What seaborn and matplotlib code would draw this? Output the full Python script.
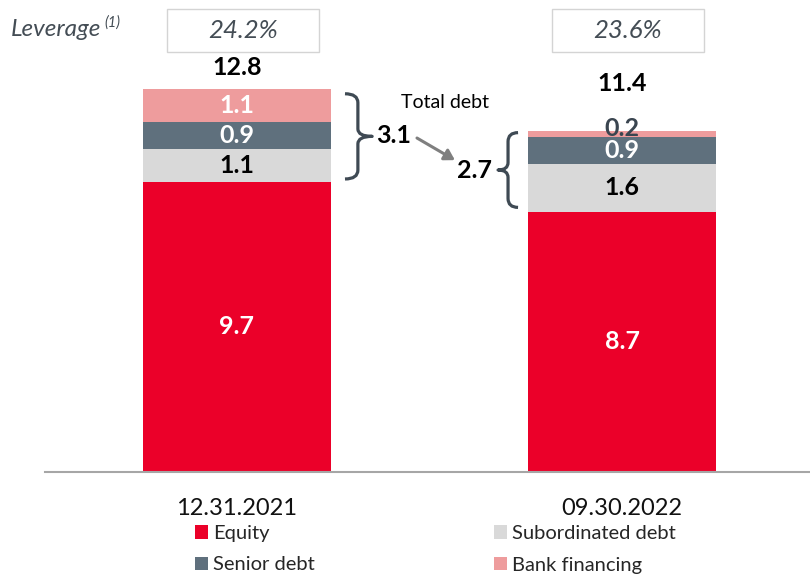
import matplotlib
matplotlib.use("Agg")
import matplotlib.pyplot as plt
from matplotlib.patches import Patch, Rectangle, PathPatch
from matplotlib.path import Path
import seaborn as sns
import pandas as pd

# ---- data ----
dates = ["12.31.2021", "09.30.2022"]
equity = [9.7, 8.7]
subordinated = [1.1, 1.6]
senior = [0.9, 0.9]
bank = [1.1, 0.2]
totals = [12.8, 11.4]
total_debt = [3.1, 2.7]
leverage = ["24.2%", "23.6%"]
series_names = ["Equity", "Subordinated debt", "Senior debt", "Bank financing"]

# ---- styles ----
C_EQ = "#EB0029"
C_SUB = "#D9D9D9"
C_SEN = "#5F707D"
C_BANK = "#EE9C9D"
C_BRACE = "#3F4A54"
C_LEV = "#444D55"
FONT = "Lato"

sns.set_theme(style="white")
plt.rcParams["font.family"] = [FONT, "DejaVu Sans"]

df = pd.DataFrame({
    "date": dates,
    "equity": equity,
    "sub": subordinated,
    "senior": senior,
    "bank": bank,
})
df["c_sub"] = df["equity"] + df["sub"]
df["c_sen"] = df["c_sub"] + df["senior"]
df["c_bank"] = df["c_sen"] + df["bank"]

W, H = 810, 578
fig = plt.figure(figsize=(W / 100, H / 100), dpi=100)
base_px = 472
ax = fig.add_axes([44.5 / W, 1 - base_px / H, 770 / W, base_px / H])

bw = 0.49
for col, c in [("c_bank", C_BANK), ("c_sen", C_SEN), ("c_sub", C_SUB), ("equity", C_EQ)]:
    sns.barplot(data=df, x="date", y=col, order=dates, color=c, saturation=1,
                width=bw, ax=ax, linewidth=0, edgecolor="none")

ax.set_xlim(-0.5, 1.5)
ax.set_ylim(0, base_px / 29.9)
for s in ["top", "right", "left"]:
    ax.spines[s].set_visible(False)
ax.spines["bottom"].set_color("#A6A6A6")
ax.spines["bottom"].set_linewidth(1.5)
ax.set_yticks([])
ax.set_xlabel("")
ax.set_ylabel("")
ax.tick_params(axis="x", length=0, pad=18.5)
ax.set_xticks([0, 1])
ax.set_xticklabels(dates, fontsize=17, color="#111111")

# ---- segment labels ----
lab_kw = dict(ha="center", va="center", fontsize=18, fontweight="bold")
for i in range(2):
    e, s, sn, b = equity[i], subordinated[i], senior[i], bank[i]
    ax.text(i, e / 2, f"{e:.1f}", color="white", **lab_kw)
    ax.text(i, e + s / 2, f"{s:.1f}", color="black", **lab_kw)
    ax.text(i, e + s + sn / 2, f"{sn:.1f}", color="white", **lab_kw)
    if b >= 0.5:
        ax.text(i, e + s + sn + b / 2, f"{b:.1f}", color="white", **lab_kw)
    else:
        ax.text(i, e + s + sn + b / 2 + 0.2, f"{b:.1f}", color="#3A4550", **lab_kw)

# totals
tot_off = [0.72, 1.6]
for i in range(2):
    ax.text(i, totals[i] + tot_off[i], f"{totals[i]:.1f}", color="black", **lab_kw)

# ---- leverage boxes ----
for i in range(2):
    xc = i + 0.015
    ax.add_patch(Rectangle((xc - 0.197, 14.05), 0.394, 1.45, facecolor="white",
                           edgecolor="#D4D4D4", linewidth=1.0, clip_on=False, zorder=5))
    ax.text(xc, 14.78, leverage[i], ha="center", va="center", fontsize=18.5,
            style="italic", color=C_LEV, zorder=6, clip_on=False)

fig.text(11 / W, 1 - 30 / H, "Leverage", ha="left", va="center", fontsize=17.5,
         style="italic", color=C_LEV)
fig.text(104 / W, 1 - 23 / H, "(1)", ha="left", va="center", fontsize=10.5,
         style="italic", color=C_LEV)

# ---- braces ----
def brace(xv, xs, xt, y0, y1):
    ym = (y0 + y1) / 2
    r, rt = 0.3, 0.25
    verts = [(xs, y1), (xv, y1), (xv, y1 - r), (xv, ym + rt), (xv, ym), (xt, ym),
             (xv, ym), (xv, ym - rt), (xv, y0 + r), (xv, y0), (xs, y0)]
    codes = [Path.MOVETO, Path.CURVE3, Path.CURVE3, Path.LINETO, Path.CURVE3, Path.CURVE3,
             Path.CURVE3, Path.CURVE3, Path.LINETO, Path.CURVE3, Path.CURVE3]
    ax.add_patch(PathPatch(Path(verts, codes), facecolor="none", edgecolor=C_BRACE,
                           linewidth=2.3, capstyle="butt", joinstyle="round", clip_on=False))

brace(0.314, 0.2805, 0.351, equity[0] + 0.1, totals[0] - 0.15)
brace(1 - 0.296, 1 - 0.27, 1 - 0.322, equity[1] + 0.15, totals[1] - 0.05)

ax.text(0.4065, 11.27, f"{total_debt[0]:.1f}", **{**lab_kw, "color": "black"})
ax.text(0.6156, 10.1, f"{total_debt[1]:.1f}", **{**lab_kw, "color": "black"})
ax.text(0.539, 12.37, "Total debt", ha="center", va="center", fontsize=14, color="black")
ax.annotate("", xy=(0.566, 10.43), xytext=(0.4675, 11.17),
            arrowprops=dict(arrowstyle="-|>,head_length=0.5,head_width=0.3",
                            color="#7F7F7F", lw=2.2, shrinkA=0, shrinkB=0))

# ---- legend ----
colors = {"Equity": C_EQ, "Subordinated debt": C_SUB, "Senior debt": C_SEN, "Bank financing": C_BANK}
order = ["Equity", "Senior debt", "Subordinated debt", "Bank financing"]
handles = [Patch(facecolor=colors[n], edgecolor="none", label=n) for n in order]
fig.legend(handles=handles, labels=order, ncol=2, frameon=False, fontsize=14.5,
           loc="upper left", bbox_to_anchor=(195 / W, 1 - 525 / H),
           handlelength=0.64, handleheight=0.64, handletextpad=0.25,
           columnspacing=8.9, labelspacing=0.72, borderpad=0, borderaxespad=0)

fig.savefig("out.png", dpi=100)
